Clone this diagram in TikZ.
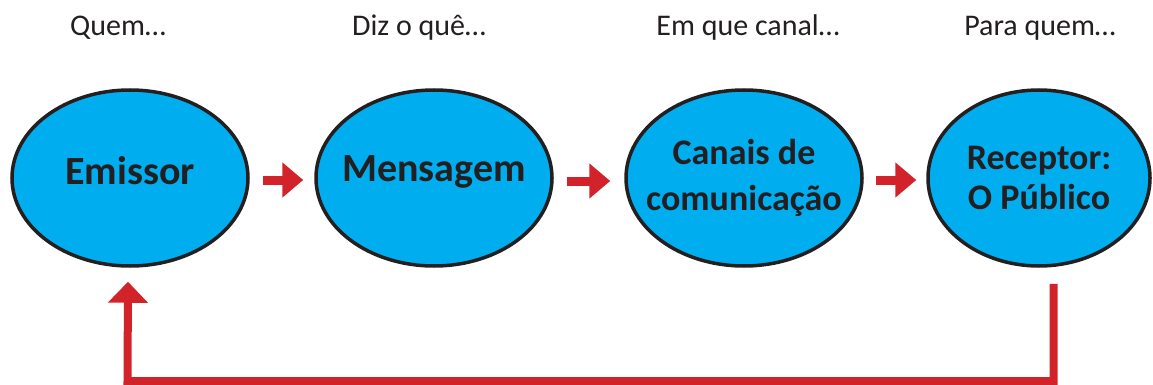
\documentclass[tikz,border=0pt]{standalone}
\usepackage{fontspec}
\setmainfont{Carlito}
\usetikzlibrary{arrows.meta, shapes.geometric}
\definecolor{azul}{RGB}{0,174,239}
\definecolor{vermelho}{RGB}{210,35,42}
\definecolor{escuro}{RGB}{35,31,32}

\begin{document}
\begin{tikzpicture}[x=1pt, y=-1pt,
			elipse/.style={ellipse, draw=escuro, line width=3.5pt, fill=azul, minimum width=236pt, minimum height=176pt, inner xsep=-30pt, inner ysep=0pt, align=center, text=escuro, font=\bfseries\fontsize{40}{44}\selectfont},
			titulo/.style={text=escuro, font=\fontsize{30}{32}\selectfont},
			seta/.style={draw=vermelho, line width=9pt, -{Triangle[length=21pt, width=34pt]}},
			retro/.style={draw=vermelho, line width=8pt, line join=miter, -{Triangle[length=21pt, width=39pt]}}]
			% Rahmen
			\useasboundingbox (0,0) rectangle (1153,385);
			% Titel
			\node[titulo] (t1) at (118,28) {Quem…};
			\node[titulo] (t2) at (419,28) {Diz o quê…};
			\node[titulo] (t3) at (748,28) {Em que canal…};
			\node[titulo] (t4) at (1040,28) {Para quem…};
			% Ellipsen
			\node[elipse, text depth=16pt] (emissor) at (130,178) {Emissor};
			\node[elipse, text depth=18pt] (mensagem) at (434,178) {Mensagem};
			\node[elipse, font=\bfseries\fontsize{36}{46}\selectfont] (canais) at (744,178) {Canais de\\comunicação};
			\node[elipse, minimum width=222pt, font=\bfseries\fontsize{36}{40}\selectfont] (receptor) at (1039,178) {Receptor:\\O Público};
			% Pfeile
			\draw[seta] ([xshift=13pt,yshift=-2pt]emissor.east) -- ([xshift=-11pt,yshift=-2pt]mensagem.west);
			\draw[seta] ([xshift=13pt,yshift=-3pt]mensagem.east) -- ([xshift=-14pt,yshift=-3pt]canais.west);
			\draw[seta] ([xshift=12pt,yshift=-2pt]canais.east) -- ([xshift=-10pt,yshift=-2pt]receptor.west);
			% Rueckkopplung
			\coordinate (base) at (127.5,381);
			\draw[retro] ([xshift=14.5pt,yshift=-16pt]receptor.south) |- (base) -- ([xshift=-2pt,yshift=-14pt]emissor.south);
		\end{tikzpicture}
\end{document}
